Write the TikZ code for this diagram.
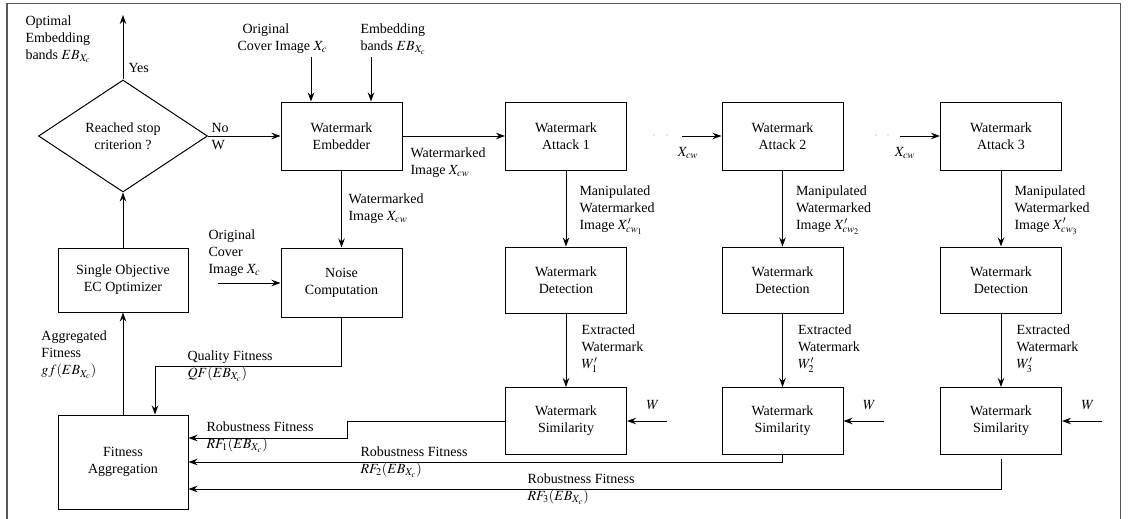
\documentclass[tikz,border=0pt]{standalone}
\usepackage{mathptmx}
\usepackage{fontspec}
\setmainfont{Liberation Serif}
\usetikzlibrary{shapes.geometric,arrows.meta}

\begin{document}
\begin{tikzpicture}[x=1pt,y=-1pt,line width=1pt,
  every node/.style={font=\fontsize{14}{17}\selectfont},
  blk/.style={draw,rectangle,minimum width=121,minimum height=68,align=center,inner sep=0},
  lbl/.style={align=left,anchor=west,inner sep=0},
  arr/.style={-{Stealth[length=9pt,width=6.5pt]}}]
\useasboundingbox (0,0) rectangle (1130,519);
% frame
\draw[black!65,line width=1.2pt] (7,519) -- (7,3.5) -- (1120.5,3.5) -- (1120.5,519);

% optimizer loop
\node[draw,diamond,minimum width=169,minimum height=112,inner sep=0,align=center] (stop) at (123,136) {Reached stop\\criterion ?};
\node[blk,minimum width=130,minimum height=64] (opt) at (123,280) {Single Objective\\EC Optimizer};
\node[blk,minimum width=130,minimum height=94] (agg) at (123,462) {Fitness\\Aggregation};
\node[blk] (emb) at (341.5,136) {Watermark\\Embedder};
\node[blk,minimum height=69] (noise) at (341.5,282.5) {Noise\\Computation};

\coordinate (best) at (123,15);
\draw[arr] (stop.north) -- (best);
\draw[arr] (opt) -- (stop);
\draw[arr] (agg) -- (opt);
\draw[arr] (stop) -- (emb);
\coordinate (cover) at (311,57);
\coordinate (bands) at (371,57);
\draw[arr] (cover) -- (cover |- emb.north);
\draw[arr] (bands) -- (bands |- emb.north);
\draw[arr] (emb) -- (noise);
\coordinate (cover2) at (218,283);
\draw[arr] (cover2) -- (cover2 -| noise.west);
\coordinate (qf) at (155,366);
\draw[arr] (noise) |- (qf) -- (qf |- agg.north);

\node[lbl,anchor=north west] at (25,15) {Optimal\\Embedding\\bands $EB_{X_c}$};
\node[lbl] at (128,68) {Yes};
\node[lbl] at (211,137) {No\\W};
\node[lbl] at (237,39) {\hspace{5pt}Original\\Cover Image $X_c$};
\node[lbl] at (360,39) {Embedding\\bands $EB_{X_c}$};
\node[lbl] at (410,163) {Watermarked\\Image $X_{cw}$};
\node[lbl] at (348,209) {Watermarked\\Image $X_{cw}$};
\node[lbl] at (208,253) {Original\\Cover\\Image $X_c$};
\node[lbl] at (41,355) {Aggregated\\Fitness\\$gf(EB_{X_c})$};
\node[lbl] at (187,366) {Quality Fitness\\$QF(EB_{X_c})$};

% attack columns
\foreach \i/\x in {1/566,2/782.5,3/1001} {
  \node[blk] (att\i) at (\x,136) {Watermark\\Attack \i};
  \node[blk,minimum height=66] (det\i) at (\x,280) {Watermark\\Detection};
  \node[blk,minimum height=67] (sim\i) at (\x,421) {Watermark\\Similarity};
  \draw[arr] (att\i) -- (det\i);
  \draw[arr] (det\i) -- (sim\i);
  \coordinate (w\i) at (\x+101,421);
  \draw[arr] (w\i) -- (sim\i.east);
  \node at (\x+87,405) {$W$};
  \node[lbl] at (\x+13,210) {Manipulated\\Watermarked\\Image $X'_{cw_\i}$};
  \node[lbl] at (\x+15,349) {Extracted\\Watermark\\$W'_\i$};
}
\draw[arr] (emb) -- (att1);
\coordinate (in2) at (682,136);
\coordinate (in3) at (900,136);
\draw[arr] (in2) -- (att2);
\draw[arr] (in3) -- (att3);
\fill[black!40] (654,135) circle (0.6) (667,135) circle (0.6) (876,135) circle (0.6) (888,135) circle (0.6);
\node at (688,153) {$X_{cw}$};
\node at (905,153) {$X_{cw}$};

% robustness fitness back to aggregation
\coordinate (r1) at (347,438);
\coordinate (r2) at (782.5,462);
\coordinate (r3) at (1001,489);
\draw[arr] (sim1.west) -| (r1) -- (r1 -| agg.east);
\draw[arr] (sim2.south) -- (r2) -- (r2 -| agg.east);
\draw[arr] ([yshift=-4]sim3.south) -- (r3) -- (r3 -| agg.east);
\node[lbl] at (206,437) {Robustness Fitness\\$RF_1(EB_{X_c})$};
\node[lbl] at (360,462) {Robustness Fitness\\$RF_2(EB_{X_c})$};
\node[lbl] at (527,489) {Robustness Fitness\\$RF_3(EB_{X_c})$};
\end{tikzpicture}
\end{document}
